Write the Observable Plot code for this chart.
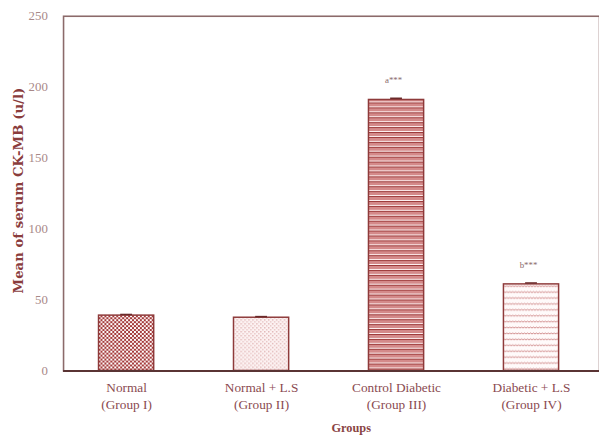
<!DOCTYPE html>
<html>
<head>
<meta charset="utf-8">
<script src="https://cdn.jsdelivr.net/npm/d3@7"></script>
<script src="https://cdn.jsdelivr.net/npm/@observablehq/plot@0.6"></script>
<style>
  html, body { margin: 0; padding: 0; background: #fff; overflow: hidden; width: 599px; height: 446px; }
  #chart { width: 599px; height: 446px; overflow: hidden; }
</style>
</head>
<body>
<div id="chart"></div>
<script>
const groups = ["Normal\n(Group I)", "Normal + L.S\n(Group II)", "Control Diabetic\n(Group III)", "Diabetic + L.S\n(Group IV)"];
const means = [39, 37.5, 191, 61];
const errors = [0.8, 0.8, 1.2, 1];
const marks = ["", "", "a***", "b***"];
const yTicks = [0, 50, 100, 150, 200, 250];
const patternIds = ["pI", "pII", "pIII", "pIV"];

const data = groups.map((g, i) => ({group: g, mean: means[i], err: errors[i], mark: marks[i], fill: `url(#${patternIds[i]})`}));

const serif = "Liberation Serif, Times New Roman, serif";

const chart = Plot.plot({
  width: 608,
  height: 446,
  marginLeft: 64,
  marginRight: 0,
  marginTop: 16,
  marginBottom: 70,
  style: {fontFamily: serif, background: "#fff"},
  x: {domain: groups, range: [60, 608], paddingInner: 0.59, paddingOuter: 0.295, label: null},
  y: {domain: [0, 250], label: null},
  marks: [
    Plot.frame({stroke: "#8c6a6a", strokeWidth: 1.6}),
    Plot.barY(data, {x: "group", y: "mean", fill: d => d.fill, stroke: "#8e3a3a", strokeWidth: 1.5}),
    Plot.tickY(data, {x: "group", y: d => d.mean + d.err, stroke: "#6a2a2a", strokeWidth: 1.5, insetLeft: 22, insetRight: 22}),
    Plot.text(data, {x: "group", y: "mean", text: "mark", dy: -20, dx: -3, fontSize: 9, fill: "#8a6a6a", fontFamily: serif}),
    Plot.ruleY([0], {stroke: "#5a3434", strokeWidth: 2}),
    Plot.axisY({ticks: yTicks, tickSize: 0, tickPadding: 16, fontSize: 13, color: "#a88888", label: null}),
    Plot.axisX({tickSize: 0, tickPadding: 9, fontSize: 13.5, lineHeight: 1.3, color: "#8a4a50", label: null}),
    Plot.text(["Groups"], {frameAnchor: "bottom", dy: 62, dx: 20, fontSize: 12.5, fontWeight: "bold", fill: "#8a4444", fontFamily: serif}),
    Plot.text(["Mean of serum CK-MB (u/l)"], {frameAnchor: "left", textAnchor: "middle", rotate: -90, dx: -45, dy: -3, fontSize: 13.5, fontWeight: "bold", fill: "#8a3c3c", fontFamily: "DejaVu Serif, serif"})
  ]
});

// Pattern definitions for bar fills
const ns = "http://www.w3.org/2000/svg";
const defs = document.createElementNS(ns, "defs");
defs.innerHTML = `
  <pattern id="pI" width="4" height="4" patternUnits="userSpaceOnUse">
    <rect width="4" height="4" fill="#a33c3c"/>
    <rect x="0" y="0" width="2" height="2" fill="#ffffff"/>
    <rect x="2" y="2" width="2" height="2" fill="#f5dede"/>
  </pattern>
  <pattern id="pII" width="4" height="4" patternUnits="userSpaceOnUse">
    <rect width="4" height="4" fill="#fdf3f3"/>
    <rect x="0" y="0" width="1.5" height="1.5" fill="#e2b8b8"/>
    <rect x="2" y="2" width="1.5" height="1.5" fill="#e8c6c6"/>
  </pattern>
  <pattern id="pIII" width="6" height="5" patternUnits="userSpaceOnUse">
    <rect width="6" height="5" fill="#d48a8a"/>
    <rect y="3" width="6" height="1" fill="#fff2f2"/>
    <rect y="4" width="6" height="1" fill="#9c3a3a"/>
  </pattern>
  <pattern id="pIV" width="6" height="6" patternUnits="userSpaceOnUse">
    <rect width="6" height="6" fill="#fffafa"/>
    <path d="M0 3 L1.5 2 L3 3 L4.5 2 L6 3" fill="none" stroke="#d08a8a" stroke-width="1"/>
  </pattern>`;
chart.insertBefore(defs, chart.firstChild);

document.getElementById("chart").appendChild(chart);
</script>
</body>
</html>
